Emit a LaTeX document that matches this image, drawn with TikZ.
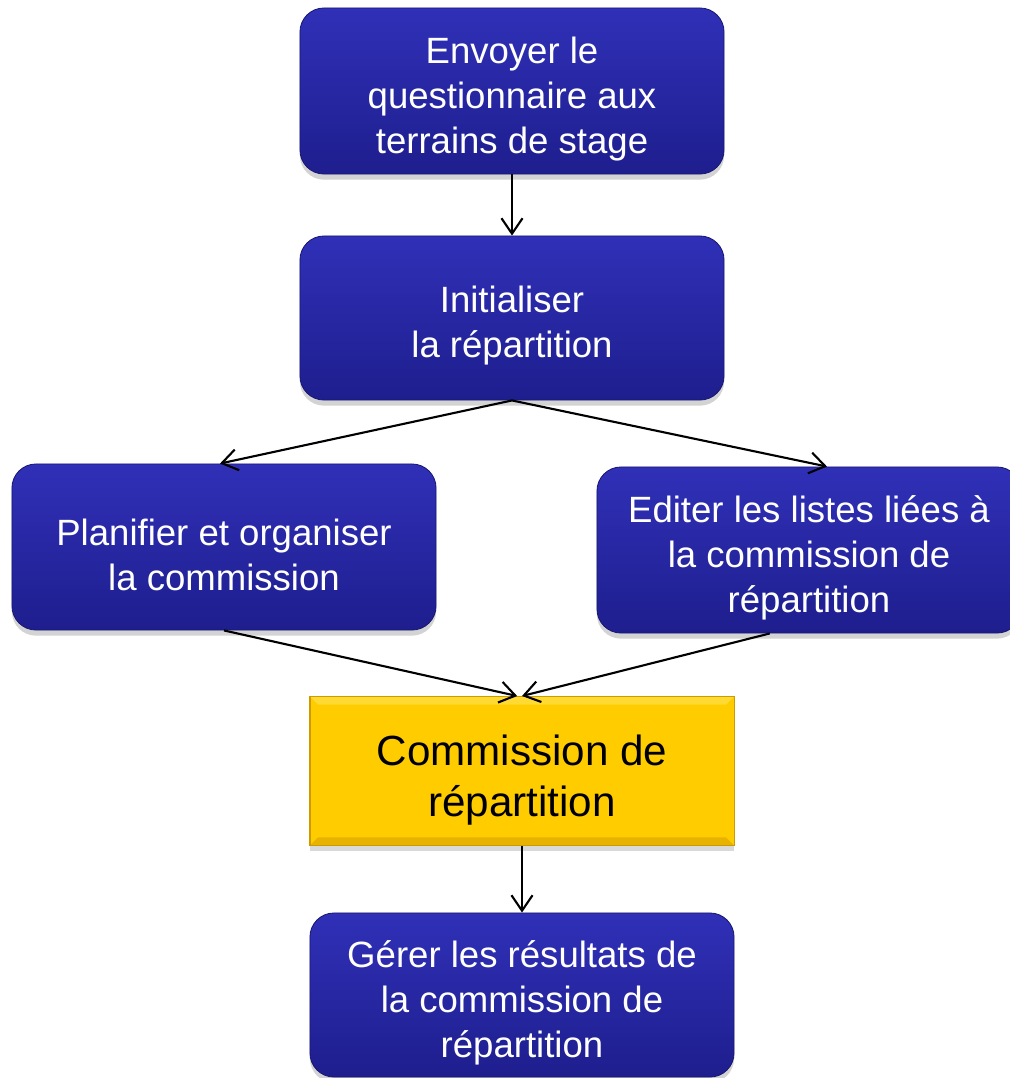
\documentclass[tikz,border=0pt]{standalone}
\usepackage{fontspec}
\setmainfont{Liberation Sans}
\usetikzlibrary{arrows.meta,shadows}
\definecolor{blueTop}{RGB}{48,48,184}
\definecolor{blueBot}{RGB}{30,30,142}
\definecolor{goldFill}{RGB}{255,204,0}
\definecolor{goldLight}{RGB}{255,218,50}
\definecolor{goldDark}{RGB}{232,178,0}
\definecolor{goldEdge}{RGB}{205,155,0}
\newcommand{\boxstrut}{\rule{0pt}{1.15em}}
\begin{document}
\begin{tikzpicture}[x=0.025cm,y=-0.025cm,
    task/.style={rounded corners=0.6cm, top color=blueTop, bottom color=blueBot,
      draw=blueBot!80!black, line width=0.6pt, text=white, align=center,
      minimum width=10.6cm, inner sep=0pt,
      drop shadow={opacity=0.35,shadow xshift=0pt,shadow yshift=-4pt},
      font=\fontsize{26}{32}\selectfont},
    meeting/.style={fill=goldFill, draw=goldEdge, line width=0.8pt, align=center,
      minimum width=10.6cm, minimum height=3.72cm, inner sep=0pt,
      drop shadow={opacity=0.3,shadow xshift=0pt,shadow yshift=-4pt},
      font=\fontsize{30}{36}\selectfont,
      path picture={
        \fill[goldLight] (path picture bounding box.north west)
          -- (path picture bounding box.north east)
          -- ([shift={(-0.2cm,-0.2cm)}]path picture bounding box.north east)
          -- ([shift={(0.2cm,-0.2cm)}]path picture bounding box.north west) -- cycle;
        \fill[goldDark] (path picture bounding box.south west)
          -- (path picture bounding box.south east)
          -- ([shift={(-0.2cm,0.2cm)}]path picture bounding box.south east)
          -- ([shift={(0.2cm,0.2cm)}]path picture bounding box.south west) -- cycle;
      }},
    flow/.style={line width=1.5pt, -{Straight Barb[length=11pt,width=15pt]}}]
  \useasboundingbox (0,0) rectangle (1010,1078);

  % tasks
  \node[task, minimum height=4.15cm] (send) at (512,91)
    {\boxstrut Envoyer le\\questionnaire aux\\terrains de stage};
  \node[task, minimum height=4.1cm] (init) at (512,318)
    {\boxstrut Initialiser\\la répartition};
  \node[task, minimum height=4.15cm] (plan) at (224,547)
    {\boxstrut Planifier et organiser\\la commission};
  \node[task, minimum height=4.15cm] (edit) at (809,550)
    {\boxstrut Editer les listes liées à\\la commission de\\répartition};
  \node[meeting] (comm) at (522,771)
    {\boxstrut Commission de\\répartition};
  \node[task, minimum height=4.1cm] (result) at (522,995)
    {\boxstrut Gérer les résultats de\\la commission de\\répartition};

  % connectors
  \draw[flow] (send.south) -- (init.north);
  \draw[flow] (init.south) -- ([xshift=-0.1cm]plan.north);
  \draw[flow] (init.south) -- ([xshift=0.45cm]edit.north);
  \draw[flow] (plan.south) -- ([xshift=-0.12cm]comm.north);
  \draw[flow] ([xshift=-0.98cm]edit.south) -- (comm.north);
  \draw[flow] (comm.south) -- (result.north);
\end{tikzpicture}
\end{document}
